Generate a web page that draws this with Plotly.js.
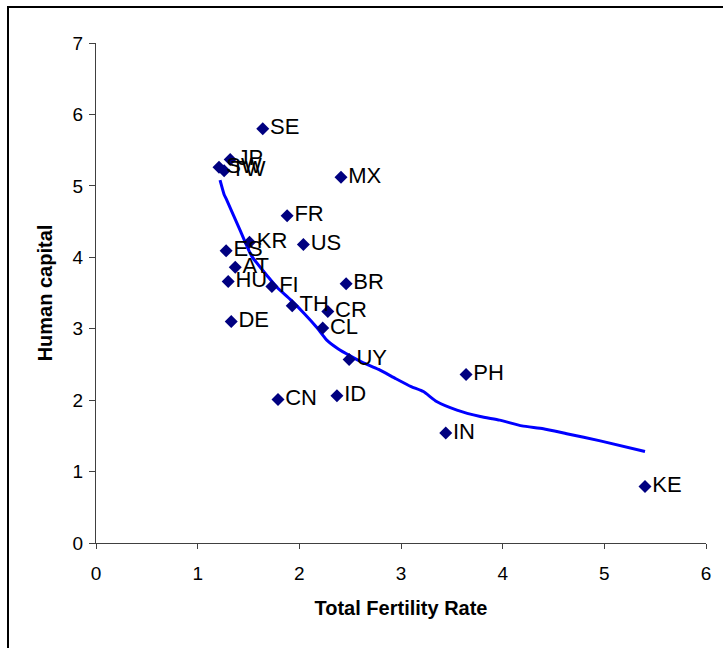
<!DOCTYPE html>
<html>
<head>
<meta charset="utf-8">
<script src="https://cdn.plot.ly/plotly-3.0.1.min.js"></script>
<style>
  html, body { margin: 0; padding: 0; background: #fff; overflow: hidden; }
  #chart { width: 723px; height: 648px; }
  #frame { position: absolute; left: 7px; top: 6px; width: 800px; height: 800px;
           border: 2px solid #000; pointer-events: none; box-sizing: border-box; }
</style>
</head>
<body>
<div id="chart"></div>
<div id="frame"></div>
<script>
// Country scatter: Total Fertility Rate vs Human capital
const countries = ["SE","JP","SW","TW","MX","FR","KR","US","ES","AT","HU","FI","BR","TH","CR","CL","DE","UY","CN","ID","PH","IN","KE"];
const tfr       = [1.64, 1.32, 1.21, 1.26, 2.41, 1.88, 1.51, 2.04, 1.28, 1.37, 1.30, 1.73, 2.46, 1.93, 2.28, 2.23, 1.33, 2.49, 1.79, 2.37, 3.64, 3.44, 5.40];
const humanCap  = [5.80, 5.37, 5.26, 5.21, 5.12, 4.58, 4.21, 4.18, 4.09, 3.86, 3.66, 3.59, 3.63, 3.32, 3.24, 3.01, 3.10, 2.57, 2.01, 2.06, 2.36, 1.54, 0.79];

// Fitted trend curve
const fitX = [1.22, 1.26, 1.28, 1.42, 1.53, 1.69, 1.78, 1.91, 2.05, 2.17, 2.27, 2.38, 2.50, 2.62, 2.78, 2.95, 3.10, 3.22, 3.35, 3.55, 3.78, 3.97, 4.19, 4.40, 4.63, 4.96, 5.40];
const fitY = [5.08, 4.88, 4.82, 4.37, 4.02, 3.73, 3.58, 3.41, 3.21, 3.02, 2.84, 2.72, 2.62, 2.53, 2.43, 2.30, 2.19, 2.12, 1.98, 1.86, 1.77, 1.72, 1.64, 1.60, 1.53, 1.43, 1.28];

const xTicks = [0, 1, 2, 3, 4, 5, 6];
const yTicks = [0, 1, 2, 3, 4, 5, 6, 7];

const traces = [
  {
    x: fitX, y: fitY, type: "scatter", mode: "lines",
    line: { color: "#0000FF", width: 3, shape: "spline", smoothing: 0.5 },
    hoverinfo: "skip"
  },
  {
    x: tfr, y: humanCap, text: countries, type: "scatter", mode: "markers+text",
    marker: { symbol: "diamond", color: "#000080", size: 10 },
    textposition: "middle right",
    textfont: { family: "Liberation Sans, Arial, sans-serif", size: 22, color: "#000" }
  }
];

const layout = {
  width: 723, height: 648,
  margin: { l: 96, r: 17, t: 43, b: 105 },
  paper_bgcolor: "#fff", plot_bgcolor: "#fff",
  showlegend: false,
  font: { family: "Liberation Sans, Arial, sans-serif", color: "#000" },
  xaxis: {
    range: [0, 6], tickvals: xTicks, ticktext: xTicks.map(String),
    showgrid: false, zeroline: false, showline: true, linecolor: "#404040", linewidth: 1,
    ticks: "outside", ticklen: 5, tickcolor: "#404040",
    ticklabelstandoff: 8,
    tickfont: { size: 19, color: "#000" },
    title: { text: "<b>Total Fertility Rate</b>", font: { size: 20, color: "#000" }, standoff: 18 }
  },
  yaxis: {
    range: [0, 7], tickvals: yTicks, ticktext: yTicks.map(String),
    showgrid: false, zeroline: false, showline: true, linecolor: "#404040", linewidth: 1,
    ticks: "outside", ticklen: 6, tickcolor: "#404040",
    ticklabelstandoff: 2,
    tickfont: { size: 19, color: "#000" },
    title: { text: "<b>Human capital</b>", font: { size: 20, color: "#000" }, standoff: 14 }
  }
};

Plotly.newPlot("chart", traces, layout, { staticPlot: true, displayModeBar: false });
</script>
</body>
</html>
